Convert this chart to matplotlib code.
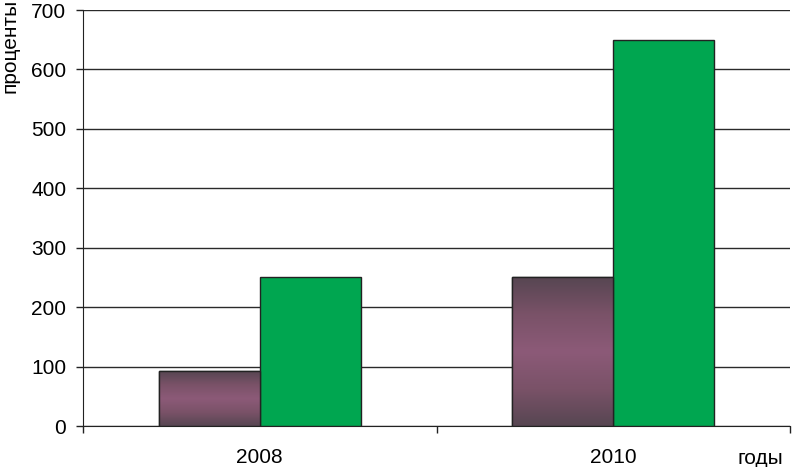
import numpy as np
import matplotlib
matplotlib.use("Agg")
import matplotlib.pyplot as plt
from matplotlib.colors import LinearSegmentedColormap

plt.rcParams['font.family'] = ['Liberation Sans', 'DejaVu Sans']

years = ["2008", "2010"]
series_purple = [92, 250]
series_green = [250, 650]
y_ticks = [0, 100, 200, 300, 400, 500, 600, 700]

fig = plt.figure(figsize=(7.92, 4.67), dpi=100)
ax = fig.add_axes([83 / 792, 41 / 467, 707 / 792, 416 / 467])

x = np.arange(len(years))
width = 0.286

purple_bars = ax.bar(x - width / 2, series_purple, width, color="#8a5a76",
                     edgecolor="#222222", linewidth=1, zorder=3)
green_bars = ax.bar(x + width / 2, series_green, width, color="#00a650",
                    edgecolor="#222222", linewidth=1, zorder=3)

# vertical gradient on the purple bars: dark at top and bottom, lighter in middle
cmap = LinearSegmentedColormap.from_list(
    "purp", ["#574652", "#7a5268", "#8c5a78", "#7a5268", "#574652"])
grad = np.linspace(0, 1, 256).reshape(-1, 1)
for bar in purple_bars:
    bx, by = bar.get_x(), bar.get_y()
    bw, bh = bar.get_width(), bar.get_height()
    im = ax.imshow(grad, cmap=cmap, aspect="auto", origin="lower",
                   extent=[bx, bx + bw, by, by + bh], zorder=3.5)
    im.set_clip_path(bar)
    edge = plt.Rectangle((bx, by), bw, bh, fill=False, edgecolor="#222222",
                         linewidth=1, zorder=4)
    ax.add_patch(edge)

ax.set_xlim(-0.5, len(years) - 0.5)
ax.set_ylim(0, 700)
ax.set_yticks(y_ticks)
ax.yaxis.grid(True, color="#2a2a2a", linewidth=1)
ax.set_axisbelow(True)

ax.set_xticks(np.arange(len(years) + 1) - 0.5)
ax.set_xticklabels([])
ax.set_xticks(x, minor=True)
ax.set_xticklabels(years, minor=True)
ax.tick_params(axis="x", which="major", length=5, width=1, color="#222222")
ax.tick_params(axis="x", which="minor", length=0, pad=16, labelsize=15)
ax.tick_params(axis="y", length=5, width=1, pad=7, labelsize=15, color="#222222")

for side in ["top", "right"]:
    ax.spines[side].set_visible(False)
ax.spines["left"].set_color("#222222")
ax.spines["bottom"].set_color("#222222")

fig.text(0.001, 1 - 93 / 467, "проценты", rotation=90, fontsize=15,
         ha="left", va="bottom")
fig.text(760 / 792, 1 - 459 / 467, "годы", fontsize=15, ha="center", va="center")

fig.savefig("out.png", dpi=100)
